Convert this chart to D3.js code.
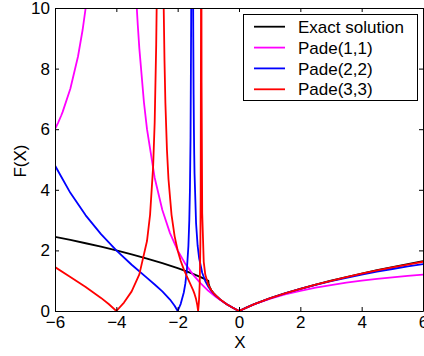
<!DOCTYPE html>
<html>
<head>
<meta charset="utf-8">
<script src="https://cdn.jsdelivr.net/npm/d3@7/dist/d3.min.js"></script>
<style>
  html, body { margin: 0; padding: 0; background: #ffffff; }
  svg { display: block; }
  text { font-family: "Liberation Sans", Arial, Helvetica, sans-serif; fill: #000; }
</style>
</head>
<body>
<svg id="chart" width="424" height="356"></svg>
<script>
// Tick values
const xTicks = [-6, -4, -2, 0, 2, 4, 6];
const yTicks = [0, 2, 4, 6, 8, 10];

// Exact solution
const exactX = [-6, -5.5, -5, -4.5, -4, -3.5, -3, -2.5, -2, -1.75, -1.5, -1.25, -1, -0.99, -0.95, -0.9, -0.8, -0.7, -0.6, -0.5, -0.4, -0.3, -0.2, -0.1, 0, 0.25, 0.5, 1, 1.5, 2, 2.5, 3, 3.5, 4, 4.5, 5, 5.5, 6];
const exactY = [2.449, 2.345, 2.236, 2.121, 2.000, 1.871, 1.732, 1.581, 1.414, 1.323, 1.225, 1.118, 1.000, 0.900, 0.776, 0.684, 0.553, 0.452, 0.368, 0.293, 0.225, 0.163, 0.106, 0.051, 0, 0.118, 0.225, 0.414, 0.581, 0.732, 0.871, 1.000, 1.121, 1.236, 1.345, 1.449, 1.550, 1.646];

// Pade(1,1)  (null = gap where the curve leaves the plot)
const pade11X = [-6, -5.9, -5.8, -5.75, -5.5, -5.25, -5.1, -5, -4, -3.333, -3.3, -3.25, -3.1, -3, -2.75, -2.5, -2.25, -2, -1.75, -1.5, -1.25, -1, -0.75, -0.5, -0.25, 0, 0.5, 1, 1.5, 2, 2.5, 3, 3.5, 4, 4.5, 5, 5.5, 6];
const pade11Y = [6, 6.211, 6.444, 6.571, 7.333, 8.4, 9.273, 10, null, 10, 9.429, 8.667, 6.889, 6, 4.4, 3.333, 2.571, 2, 1.556, 1.2, 0.909, 0.667, 0.462, 0.286, 0.133, 0, 0.222, 0.4, 0.545, 0.667, 0.769, 0.857, 0.933, 1, 1.059, 1.111, 1.158, 1.2];

// Pade(2,2)
const pade22X = [-6, -5.5, -5, -4.5, -4, -3.5, -3, -2.75, -2.5, -2.25, -2.1, -2, -1.9, -1.8, -1.75, -1.7, -1.65, -1.62, -1.6, -1.58, -1.56, -1.5588, -1.53, -1.4945, -1.49, -1.48, -1.47, -1.46, -1.45, -1.4, -1.35, -1.3, -1.2, -1.1, -1, -0.9, -0.8, -0.6, -0.4, -0.2, 0, 0.5, 1, 1.5, 2, 2.5, 3, 3.5, 4, 4.5, 5, 5.5, 6];
const pade22Y = [4.8, 3.899, 3.158, 2.535, 2.0, 1.527, 1.091, 0.874, 0.645, 0.379, 0.175, 0, 0.238, 0.610, 0.903, 1.351, 2.144, 3.019, 4.0, 5.725, 9.587, 10, null, 10, 8.937, 7.152, 5.983, 5.156, 4.541, 2.897, 2.163, 1.742, 1.263, 0.988, 0.8, 0.659, 0.545, 0.367, 0.225, 0.106, 0, 0.225, 0.414, 0.579, 0.727, 0.861, 0.984, 1.096, 1.2, 1.296, 1.386, 1.470, 1.548];

// Pade(3,3)
const pade33X = [-6, -5.5, -5, -4.5, -4.25, -4, -3.75, -3.5, -3.25, -3, -2.9, -2.8, -2.75, -2.7, -2.685, -2.57, -2.455, -2.43, -2.4, -2.35, -2.3, -2.2, -2.1, -2, -1.9, -1.8, -1.7, -1.6, -1.5, -1.45, -1.4, -1.36, -1.3333, -1.31, -1.3, -1.28, -1.26, -1.25, -1.24, -1.2396, -1.232, -1.2233, -1.22, -1.2, -1.15, -1.1, -1, -0.9, -0.8, -0.6, -0.4, -0.2, 0, 0.5, 1, 1.5, 2, 2.5, 3, 3.5, 4, 4.5, 5, 5.5, 6];
const pade33Y = [1.448, 1.123, 0.791, 0.432, 0.230, 0, 0.279, 0.648, 1.210, 2.308, 3.173, 4.763, 6.213, 8.783, 10, null, 10, 8.287, 6.857, 5.330, 4.355, 3.174, 2.473, 2.0, 1.651, 1.374, 1.139, 0.923, 0.698, 0.564, 0.393, 0.196, 0, 0.265, 0.429, 0.947, 2.176, 3.794, 9.35, 10, null, 10, 7.54, 3.231, 1.625, 1.204, 0.857, 0.677, 0.552, 0.368, 0.225, 0.106, 0, 0.2247, 0.4142, 0.581, 0.7317, 0.870, 0.998, 1.118, 1.231, 1.337, 1.438, 1.534, 1.626];

const seriesNames = ["Exact solution", "Pade(1,1)", "Pade(2,2)", "Pade(3,3)"];
const seriesColors = ["#000000", "#ff00ff", "#0000ff", "#ff0000"];
const seriesX = [exactX, pade11X, pade22X, pade33X];
const seriesY = [exactY, pade11Y, pade22Y, pade33Y];

const svg = d3.select("#chart");
const plot = { left: 55, right: 423, top: 8, bottom: 311 };

const x = d3.scaleLinear().domain([-6, 6]).range([plot.left, plot.right]);
const y = d3.scaleLinear().domain([0, 10]).range([plot.bottom, plot.top]);

svg.append("defs").append("clipPath").attr("id", "plotClip")
  .append("rect")
  .attr("x", plot.left).attr("y", plot.top)
  .attr("width", plot.right - plot.left).attr("height", plot.bottom - plot.top);

// Curves
const line = d3.line()
  .defined(d => d[1] !== null)
  .x(d => x(d[0]))
  .y(d => y(d[1]));

const curves = svg.append("g").attr("clip-path", "url(#plotClip)");
seriesNames.forEach((name, i) => {
  const pts = seriesX[i].map((xv, j) => [xv, seriesY[i][j]]);
  curves.append("path")
    .datum(pts)
    .attr("fill", "none")
    .attr("stroke", seriesColors[i])
    .attr("stroke-width", 1.8)
    .attr("stroke-linejoin", "round")
    .attr("d", line);
});

// Axes (box with inward ticks)
const fontSize = 17;
const axisStyle = g => {
  g.selectAll("path").attr("stroke", "#000").attr("stroke-width", 1);
  g.selectAll("line").attr("stroke", "#000").attr("stroke-width", 1);
  g.selectAll("text").style("font-size", fontSize + "px").attr("fill", "#000");
};

svg.append("g")
  .attr("transform", `translate(0,${plot.bottom})`)
  .call(d3.axisBottom(x).tickValues(xTicks).tickSizeInner(-4).tickSizeOuter(0).tickPadding(5).tickFormat(d3.format("d")))
  .call(axisStyle);

svg.append("g")
  .attr("transform", `translate(0,${plot.top})`)
  .call(d3.axisTop(x).tickValues(xTicks).tickSizeInner(-4).tickSizeOuter(0).tickFormat(""))
  .call(axisStyle);

svg.append("g")
  .attr("transform", `translate(${plot.left},0)`)
  .call(d3.axisLeft(y).tickValues(yTicks).tickSizeInner(-4).tickSizeOuter(0).tickPadding(5).tickFormat(d3.format("d")))
  .call(axisStyle);

svg.append("g")
  .attr("transform", `translate(${plot.right},0)`)
  .call(d3.axisRight(y).tickValues(yTicks).tickSizeInner(-4).tickSizeOuter(0).tickFormat(""))
  .call(axisStyle);

svg.selectAll(".domain").attr("fill", "none");
svg.selectAll(".tick text").attr("font-family", null);

// Axis titles
svg.append("text")
  .attr("x", x(0) + 1)
  .attr("y", 348)
  .attr("text-anchor", "middle")
  .style("font-size", fontSize + "px")
  .text("X");

svg.append("text")
  .attr("transform", "translate(25.5,161) rotate(-90)")
  .attr("text-anchor", "middle")
  .style("font-size", fontSize + "px")
  .text("F(X)");

// Legend
const legend = svg.append("g");
legend.append("rect")
  .attr("x", 243.5).attr("y", 14.5)
  .attr("width", 174).attr("height", 86)
  .attr("fill", "#ffffff")
  .attr("stroke", "#000")
  .attr("stroke-width", 1);

const rowY = [26.7, 47.6, 68.4, 89.3];
seriesNames.forEach((name, i) => {
  legend.append("line")
    .attr("x1", 254).attr("x2", 285)
    .attr("y1", rowY[i]).attr("y2", rowY[i])
    .attr("stroke", seriesColors[i])
    .attr("stroke-width", 1.8);
  legend.append("text")
    .attr("x", 298)
    .attr("y", rowY[i])
    .attr("dy", "0.36em")
    .style("font-size", fontSize + "px")
    .text(name);
});
</script>
</body>
</html>
